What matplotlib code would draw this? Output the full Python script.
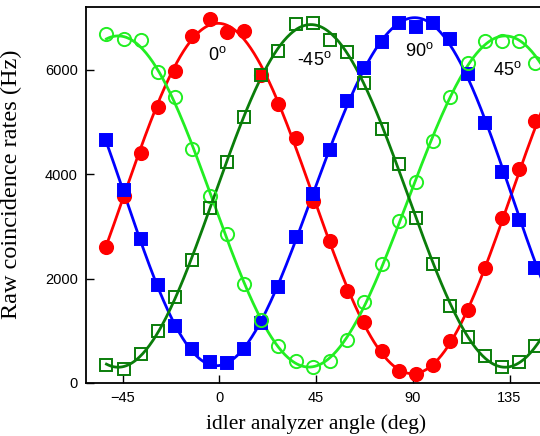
import numpy as np
import matplotlib.pyplot as plt

# idler analyzer angles (deg)
angle = [-52.5, -44.5, -36.5, -28.5, -20.5, -12.5, -4.5, 3.5, 11.5, 19.5,
         27.5, 35.5, 43.5, 51.5, 59.5, 67.5, 75.5, 83.5, 91.5, 99.5,
         107.5, 115.5, 123.5, 131.5, 139.5, 147.0]

# raw coincidence rates (Hz), one list per signal analyzer setting
rate_0 = [2600, 3575, 4410, 5290, 5980, 6640, 6970, 6725, 6735, 5900,
          5350, 4690, 3480, 2710, 1770, 1160, 605, 225, 180, 340,
          800, 1390, 2200, 3150, 4100, 5010]
rate_90 = [4660, 3690, 2760, 1870, 1100, 650, 395, 385, 650, 1150,
           1830, 2790, 3625, 4470, 5395, 6035, 6525, 6895, 6820, 6895,
           6590, 5925, 4980, 4035, 3130, 2200]
rate_45 = [6675, 6580, 6565, 5950, 5480, 4490, 3575, 2855, 1900, 1210,
           700, 415, 300, 415, 830, 1545, 2280, 3100, 3850, 4630,
           5470, 6130, 6545, 6545, 6545, 6130]
rate_m45 = [350, 275, 560, 990, 1645, 2350, 3350, 4235, 5095, 5895,
            6365, 6865, 6885, 6565, 6340, 5745, 4865, 4200, 3150, 2280,
            1480, 875, 510, 300, 395, 715]

labels = ['0', '-45', '90', '45']
label_pos = [(-1, 6280), (44, 6190), (93, 6350), (134, 6000)]


def fit_curve(x, y, xs):
    # smooth periodic fit (period 180 deg) through the measured points
    t = np.radians(np.asarray(x))
    ts = np.radians(xs)
    A = np.column_stack([np.ones_like(t), np.cos(2 * t), np.sin(2 * t),
                         np.cos(4 * t), np.sin(4 * t)])
    c = np.linalg.lstsq(A, np.asarray(y, float), rcond=None)[0]
    As = np.column_stack([np.ones_like(ts), np.cos(2 * ts), np.sin(2 * ts),
                          np.cos(4 * ts), np.sin(4 * ts)])
    return As @ c


fig = plt.figure(figsize=(5.4, 4.36), dpi=100)
ax = fig.add_axes([0.1593, 0.1216, 0.852, 0.8624])

xs = np.linspace(angle[0], 152, 400)
series = [
    (rate_0, '#ff0000', 'o', True, 9.5),
    (rate_90, '#0000ff', 's', True, 8.5),
    (rate_45, '#22ee22', 'o', False, 9.5),
    (rate_m45, '#0a7d0a', 's', False, 8.3),
]
for y, col, mk, filled, ms in series:
    ax.plot(xs, fit_curve(angle, y, xs), color=col, lw=2, zorder=2)
    ax.plot(angle, y, mk, ms=ms, color=col,
            mfc=col if filled else 'none', mec=col, mew=1.4, zorder=3)

for txt, (lx, ly) in zip(labels, label_pos):
    ax.text(lx, ly, txt + r'$^\mathregular{o}$', fontsize=13,
            family='Liberation Sans', ha='center', va='center')

ax.set_xlim(-62, 152)
ax.set_ylim(0, 7200)
ax.set_xticks([-45, 0, 45, 90, 135])
ax.set_yticks([0, 2000, 4000, 6000])
ax.tick_params(direction='in', length=6, width=1, labelsize=10.5, pad=6)
for lab in ax.get_xticklabels() + ax.get_yticklabels():
    lab.set_family('Liberation Sans')
for s in ax.spines.values():
    s.set_linewidth(1.3)

ax.set_xlabel('idler analyzer angle (deg)', family='Liberation Serif',
              fontsize=15.5)
ax.xaxis.set_label_coords(0.5, -0.083)
ax.set_ylabel('Raw coincidence rates (Hz)', family='Liberation Serif',
              fontsize=17.5)
ax.yaxis.set_label_coords(-0.138, 0.529)

fig.savefig('out.png', dpi=100)
